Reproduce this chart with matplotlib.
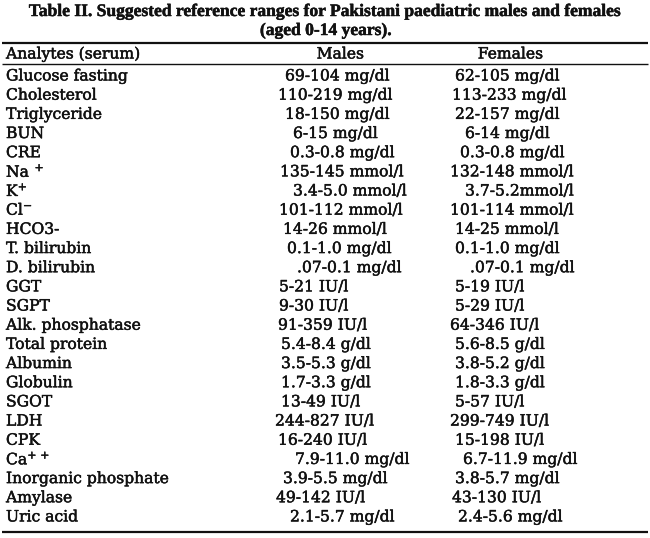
import matplotlib
matplotlib.use("Agg")
import matplotlib.pyplot as plt
import matplotlib.patheffects as pe

plt.rcParams['font.family'] = ['DejaVu Serif']
plt.rcParams['mathtext.fontset'] = 'dejavuserif'

title_lines = ["Table II. Suggested reference ranges for Pakistani paediatric males and females",
               "(aged 0-14 years)."]
headers = ["Analytes (serum)", "Males", "Females"]

analytes = ["Glucose fasting", "Cholesterol", "Triglyceride", "BUN", "CRE",
            "Na$^{\\ +}$", "K$^{+}$", "Cl$^{-}$", "HCO3-", "T. bilirubin", "D. bilirubin",
            "GGT", "SGPT", "Alk. phosphatase", "Total protein", "Albumin", "Globulin",
            "SGOT", "LDH", "CPK", "Ca$^{+\\,+}$", "Inorganic phosphate", "Amylase",
            "Uric acid"]
males = ["69-104 mg/dl", "110-219 mg/dl", "18-150 mg/dl", "6-15 mg/dl",
         "0.3-0.8 mg/dl", "135-145 mmol/l", "3.4-5.0 mmol/l", "101-112 mmol/l",
         "14-26 mmol/l", "0.1-1.0 mg/dl", ".07-0.1 mg/dl", "5-21 IU/l", "9-30 IU/l",
         "91-359 IU/l", "5.4-8.4 g/dl", "3.5-5.3 g/dl", "1.7-3.3 g/dl", "13-49 IU/l",
         "244-827 IU/l", "16-240 IU/l", "7.9-11.0 mg/dl", "3.9-5.5 mg/dl",
         "49-142 IU/l", "2.1-5.7 mg/dl"]
females = ["62-105 mg/dl", "113-233 mg/dl", "22-157 mg/dl", "6-14 mg/dl",
           "0.3-0.8 mg/dl", "132-148 mmol/l", "3.7-5.2mmol/l", "101-114 mmol/l",
           "14-25 mmol/l", "0.1-1.0 mg/dl", ".07-0.1 mg/dl", "5-19 IU/l", "5-29 IU/l",
           "64-346 IU/l", "5.6-8.5 g/dl", "3.8-5.2 g/dl", "1.8-3.3 g/dl", "5-57 IU/l",
           "299-749 IU/l", "15-198 IU/l", "6.7-11.9 mg/dl", "3.8-5.7 mg/dl",
           "43-130 IU/l", "2.4-5.6 mg/dl"]

# left edges of the value columns (pixels), the scan is not quite aligned
male_x = [285, 278, 285, 293, 290, 280, 293, 279, 283, 287, 297, 279, 279, 278,
          281, 281, 281, 281, 275, 278, 295, 283, 276, 290]
female_x = [455, 452, 455, 465, 460, 450, 465, 450, 455, 455, 470, 455, 455, 450,
            455, 455, 455, 455, 450, 455, 463, 455, 452, 458]

W, H = 650, 538
fig = plt.figure(figsize=(W / 100, H / 100), dpi=100)
ax = fig.add_axes([0, 0, 1, 1])
ax.set_xlim(0, W)
ax.set_ylim(H, 0)
ax.axis('off')

fs = 11.2
ink = '#111111'
heavy = [pe.withStroke(linewidth=0.35, foreground=ink)]

ax.text(326, 12, title_lines[0], ha='center', va='center', fontsize=12.6,
        family='Liberation Serif', fontweight='bold', color=ink, path_effects=heavy)
ax.text(326, 31, title_lines[1], ha='center', va='center', fontsize=12.6,
        family='Liberation Serif', fontweight='bold', color=ink, path_effects=heavy)

ax.hlines(43, 2, 648, color=ink, lw=1.6)
ax.hlines(64, 2, 648, color=ink, lw=1.0)
ax.hlines(532, 2, 648, color=ink, lw=1.6)

ax.text(6, 54, headers[0], ha='left', va='center', fontsize=fs, color=ink, path_effects=heavy)
ax.text(340, 54, headers[1], ha='center', va='center', fontsize=fs, color=ink, path_effects=heavy)
ax.text(510, 54, headers[2], ha='center', va='center', fontsize=fs, color=ink, path_effects=heavy)

y0, dy = 76, 19.17
for i, (a, m, f) in enumerate(zip(analytes, males, females)):
    y = y0 + i * dy
    ax.text(6, y, a, ha='left', va='center', fontsize=fs, color=ink, path_effects=heavy)
    ax.text(male_x[i], y, m, ha='left', va='center', fontsize=fs, color=ink, path_effects=heavy)
    ax.text(female_x[i], y, f, ha='left', va='center', fontsize=fs, color=ink, path_effects=heavy)

fig.savefig("out.png", dpi=100)
